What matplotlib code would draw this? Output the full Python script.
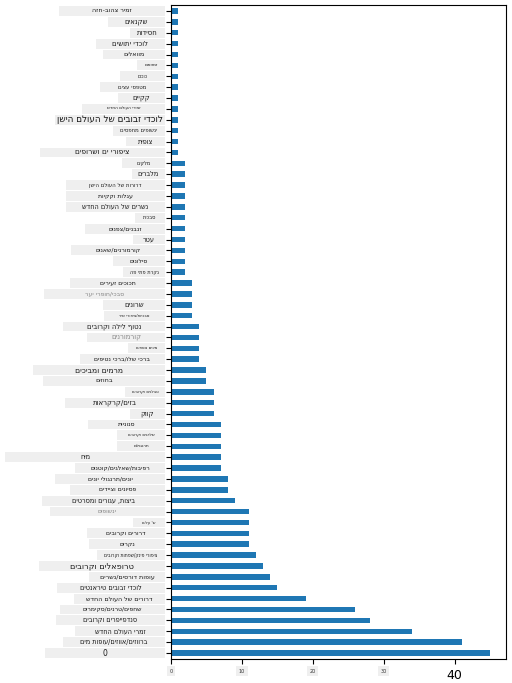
import matplotlib
matplotlib.use("Agg")
import matplotlib.pyplot as plt
import matplotlib.transforms as mtrans
from matplotlib.patches import Rectangle
import numpy as np

# ---- data (top row of the chart first) ----
families = [
    "זמיר צהוב-חזה", "שקנאים", "חסידות", "לוכדי יתושים", "מוואלים",
    "זמזומים", "כוכים", "מטפסי עצים", "קקיים", "זמירי העולם החדש",
    "לוכדי זבובים של העולם הישן", "ינשופים מחפסים", "צופית", "ציפורי ים ושרופים", "מלקים",
    "מלברים", "דרורות של העולם הישן", "עגלות וקקיות", "נשרים של העולם החדש", "סבכית",
    "זנבנים/צפנים", "עטר", "קורמורנים/שאנים", "סילונים", "נקרת פתי פה",
    "תכוכים זעירים", "סבכי/חופרי יער", "שרונים", "סבכיות/ציפורי שיר", "נטוף לילה וקרובים",
    "קורמורנים", "מינים נוספים", "ברכי שלו/ברכי נטיפים", "מרמים ומביכים", "בחוזים",
    "טבלנים וקרובים", "בזים/קרקראות", "קווק", "סנוניות", "שלדגים וקרובים",
    "תרנגולים", "מיח", "רפיבות/שאלגים/קוטנים", "יונים/תרנגולי יונים", "פסיונים וציידים",
    "ביצות, עגורים ומסרטים", "ינשופים", "ש' עלים", "דרורים וקרובים", "נקרים",
    "ציפורי פינק/שפתות וקרובים", "טרופאלים וקרובים", "עופות דורסים/נשרים", "לוכדי זבובים טיראנטים", "דרורים של העולם החדש",
    "שחפים/טרנים/סקימרים", "סנדפייפרים וקרובים", "זמרי העולם החדש", "ברווזים/אווזים/עופות מים", "0",
]
counts = [
    1, 1, 1, 1, 1, 1, 1, 1, 1, 1, 1, 1, 1, 1,
    2, 2, 2, 2, 2, 2, 2, 2, 2, 2, 2,
    3, 3, 3, 3,
    4, 4, 4, 4,
    5, 5,
    6, 6, 6,
    7, 7, 7, 7, 7,
    8, 8,
    9,
    11, 11, 11, 11,
    12, 13, 14, 15, 19, 26, 28, 34, 41, 45,
]
x_ticks = [0, 10, 20, 30, 40]
x_tick_labels = ["0", "10", "20", "30", "40"]

# ---- label styling (translation overlay boxes) ----
box_left_px = [
    59, 108, 130, 96, 103, 137, 120, 100, 118, 82,
    55, 113, 126, 40, 122, 132, 66, 66, 66, 135,
    85, 133, 71, 113, 123, 70, 44, 103, 104, 63,
    87, 128, 80, 33, 43, 125, 65, 130, 88, 117,
    117, 5, 75, 55, 70, 42, 50, 133, 87, 89,
    97, 39, 89, 57, 74, 60, 56, 75, 63, 45,
]
font_sizes = [
    4.2, 4.5, 4.5, 4.5, 4.2, 2.8, 3.0, 3.5, 4.5, 2.8,
    5.8, 3.5, 4.3, 4.8, 3.3, 4.3, 3.5, 4.0, 4.3, 3.3,
    4.0, 4.3, 4.0, 4.0, 3.3, 4.0, 4.0, 4.5, 2.6, 4.5,
    4.5, 2.6, 4.0, 5.0, 4.2, 2.6, 4.6, 4.5, 4.0, 2.6,
    2.8, 4.3, 4.0, 4.0, 4.0, 4.3, 4.0, 2.6, 4.0, 4.0,
    3.0, 5.3, 4.2, 4.3, 4.2, 4.0, 4.3, 4.3, 4.3, 5.0,
]
font_scale = 1.1
grey_rows = {26, 30, 46}

W, H = 512, 683
fig = plt.figure(figsize=(W / 100, H / 100), dpi=100)
ax = fig.add_axes([171 / W, 1 - 659 / H, (506 - 171) / W, (659 - 5) / H])

n = len(families)
ypos = np.arange(n)[::-1]  # first family at top
ax.barh(ypos, counts, height=0.5, color="#1f77b4", zorder=2)
ax.set_xlim(0, max(counts) * 1.05)
ax.set_ylim(-0.55, n - 0.45)

ax.set_yticks(ypos)
ax.set_yticklabels([""] * n)
ax.tick_params(axis="y", length=3.5, width=0.8)

ax.set_xticks(x_ticks)
ax.set_xticklabels(x_tick_labels)
xl = ax.get_xticklabels()
for lbl in xl[:-1]:
    lbl.set_fontsize(3.5)
    lbl.set_color("#333333")
    lbl.set_bbox(dict(facecolor="#efefef", edgecolor="none", pad=1.8))
xl[-1].set_fontsize(9)

def visual(s):
    # matplotlib lays text out left-to-right; reverse for right-to-left display
    return s[::-1]

blend = mtrans.blended_transform_factory(fig.transFigure, ax.transData)
right_px = 165
for i, (name, y) in enumerate(zip(families, ypos)):
    left = box_left_px[i]
    rect = Rectangle((left / W, y - 0.45), (right_px - left) / W, 0.9,
                     transform=blend, facecolor="#efefef", edgecolor="none",
                     clip_on=False, zorder=1)
    ax.add_artist(rect)
    ax.text((left + right_px) / 2 / W, y, visual(name), transform=blend,
            ha="center", va="center", fontsize=font_sizes[i] * font_scale,
            color="#888888" if i in grey_rows else "#1a1a1a",
            family=["DejaVu Sans"], clip_on=False, zorder=3)

fig.savefig("out.png", dpi=100)
